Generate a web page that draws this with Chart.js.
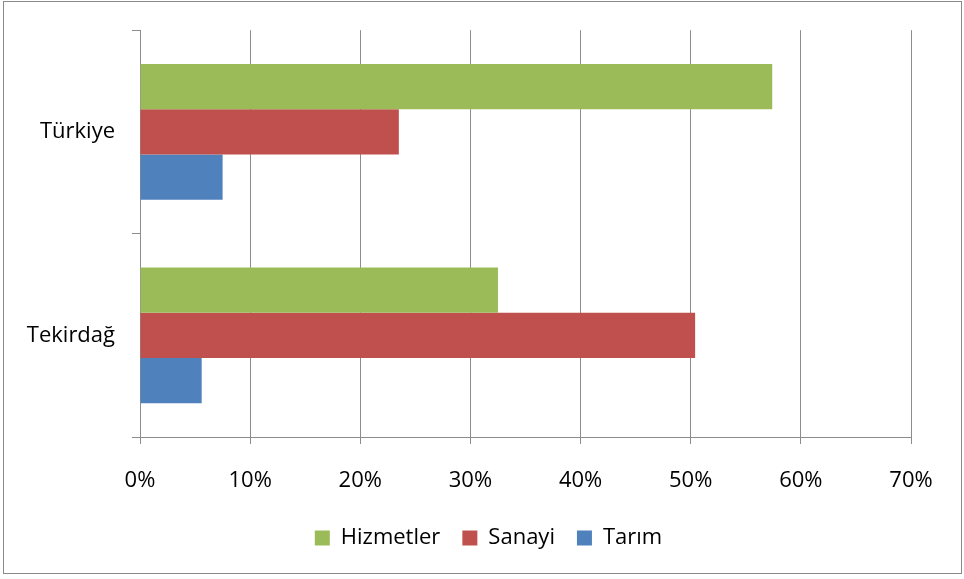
<!DOCTYPE html>
<html>
<head>
<meta charset="utf-8">
<script src="https://cdn.jsdelivr.net/npm/chart.js@4.4.1/dist/chart.umd.min.js"></script>
<style>
    html, body { margin: 0; padding: 0; background: #fff; }
    #wrap { position: relative; width: 964px; height: 579px; }
    #frame {
        position: absolute; left: 3px; top: 1px; width: 957px; height: 571px;
        border: 1px solid #8a8a8a; pointer-events: none;
    }
    canvas { position: absolute; left: 0; top: 0; }
</style>
</head>
<body>
<div id="wrap">
    <canvas id="chart" width="964" height="579"></canvas>
    <div id="frame"></div>
</div>
<script>
// Data
const categories = ["Türkiye", "Tekirdağ"];
const hizmetler = [57.4, 32.5];
const sanayi = [23.5, 50.4];
const tarim = [7.5, 5.6];
const tickLabels = ["0%", "10%", "20%", "30%", "40%", "50%", "60%", "70%"];

const fontFamily = "'Open Sans', 'Noto Sans', sans-serif";
const gridColor = "#8c8c8c";

// legend sits centred on the whole frame, not on the plot
const shiftLegend = {
    id: "shiftLegend",
    afterLayout(chart) {
        chart.legend.left += 28;
        chart.legend.right += 28;
    }
};

new Chart(document.getElementById("chart"), {
    type: "bar",
    data: {
        labels: categories,
        datasets: [
            { label: "Hizmetler", data: hizmetler, backgroundColor: "#9BBB59" },
            { label: "Sanayi", data: sanayi, backgroundColor: "#C0504D" },
            { label: "Tarım", data: tarim, backgroundColor: "#4F81BD" }
        ]
    },
    options: {
        indexAxis: "y",
        responsive: false,
        animation: false,
        categoryPercentage: 0.667,
        barPercentage: 1,
        layout: { padding: { left: 10, top: 29, right: 53, bottom: 20 } },
        scales: {
            x: {
                min: 0,
                max: 70,
                ticks: {
                    stepSize: 10,
                    padding: 24,
                    color: "#000",
                    font: { family: fontFamily, size: 22 },
                    callback: (v, i) => tickLabels[i]
                },
                grid: { color: gridColor, lineWidth: 1, tickLength: 7 },
                border: { color: gridColor },
                afterFit: (scale) => { scale.height = 68; }
            },
            y: {
                ticks: {
                    padding: 17,
                    color: "#000",
                    font: { family: fontFamily, size: 22 }
                },
                grid: { offset: true, drawOnChartArea: false, color: gridColor, tickLength: 8 },
                border: { color: gridColor },
                afterFit: (scale) => { scale.width = 130; }
            }
        },
        plugins: {
            legend: {
                position: "bottom",
                labels: {
                    color: "#000",
                    font: { family: fontFamily, size: 22 },
                    boxWidth: 15,
                    boxHeight: 15,
                    padding: 22
                }
            },
            tooltip: { enabled: false }
        }
    },
    plugins: [shiftLegend]
});
</script>
</body>
</html>
